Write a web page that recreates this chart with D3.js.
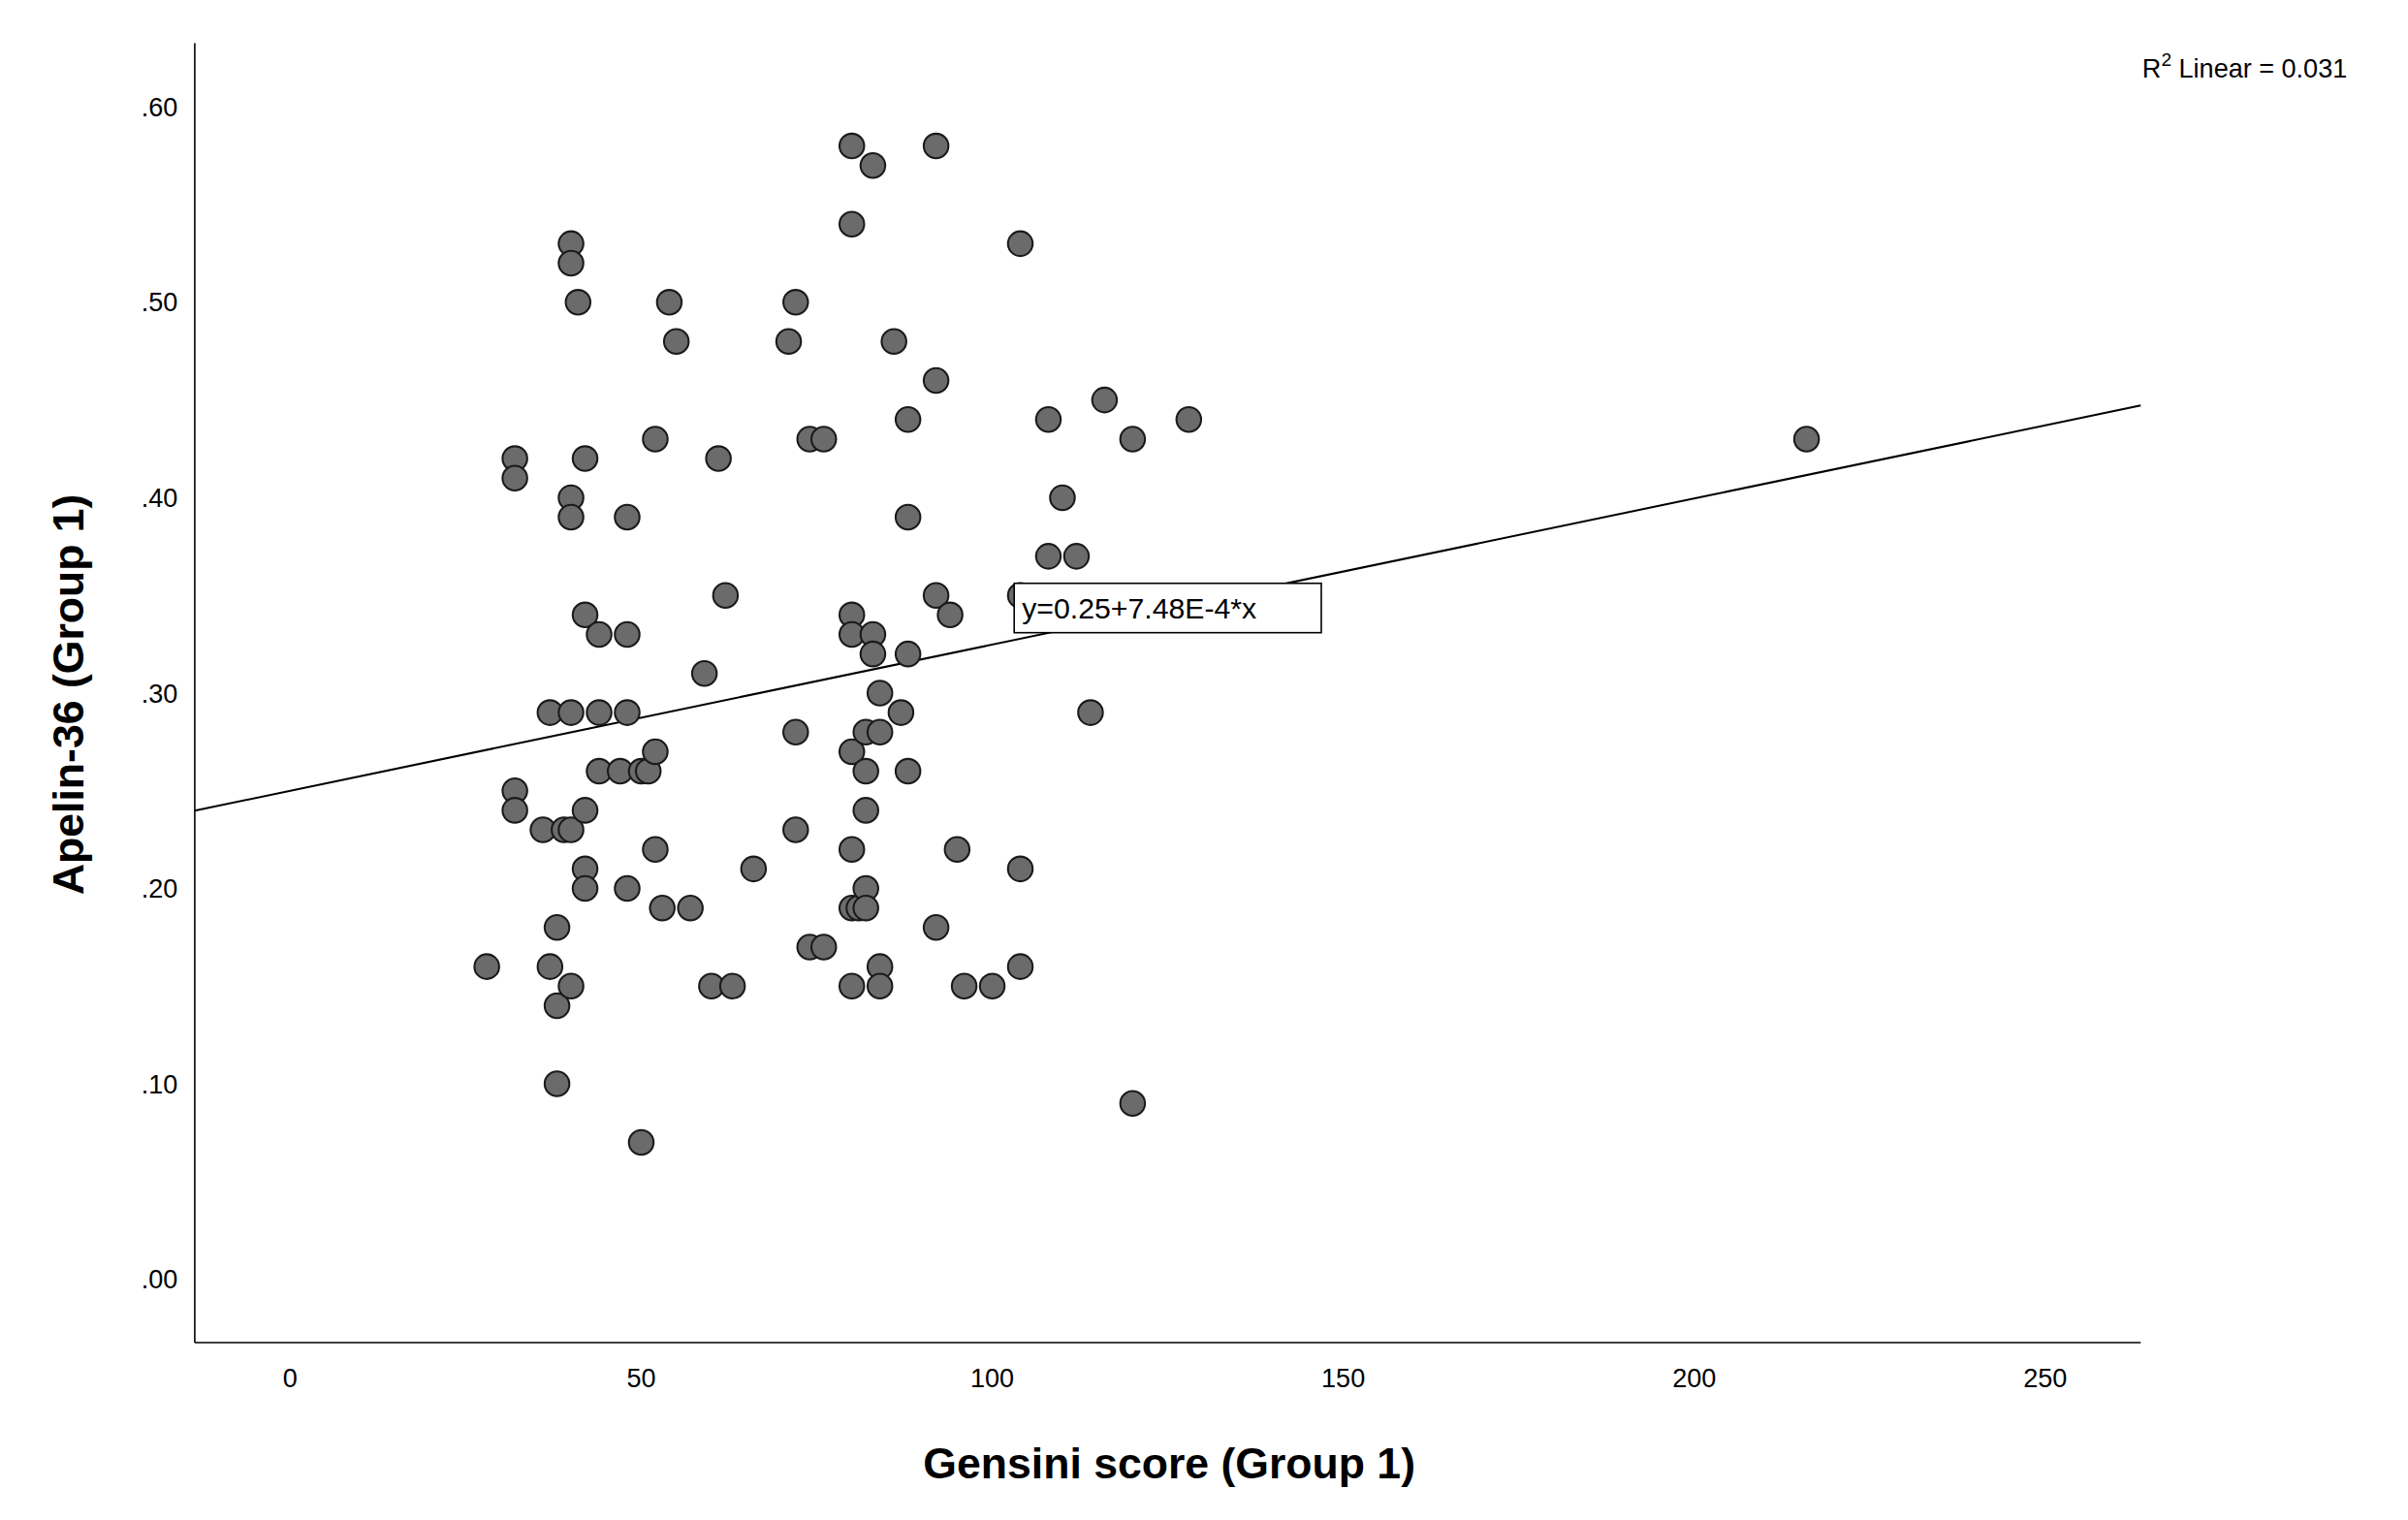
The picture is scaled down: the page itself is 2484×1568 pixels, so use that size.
<!DOCTYPE html>
<html><head><meta charset="utf-8">
<script src="https://cdn.jsdelivr.net/npm/d3@7"></script>
<style>body{margin:0;background:#fff}svg{display:block}text{font-family:"Liberation Sans",Arial,sans-serif}</style>
</head><body><svg id="c" width="2484" height="1568" viewBox="0 0 1560 985"></svg>
<script>
// Gensini score (x) and Apelin-36 (y)
const gensini = [28,32,32,32,32,36,37,37,38,38,38,39,40,40,40,40,40,40,40,41,42,42,42,42,42,44,44,44,47,48,48,48,48,50,50,51,52,52,52,53,54,55,57,59,60,61,62,63,66,71,72,72,72,74,74,76,76,80,80,80,80,80,80,80,80,81,82,82,82,82,82,83,83,83,84,84,84,84,86,87,88,88,88,88,92,92,92,92,94,95,96,100,104,104,104,104,108,108,110,112,114,116,120,120,128,216];
const apelin = [.16,.42,.41,.25,.24,.23,.29,.16,.18,.14,.10,.23,.53,.52,.40,.39,.29,.23,.15,.50,.42,.34,.24,.21,.20,.33,.29,.26,.26,.39,.33,.29,.20,.26,.07,.26,.43,.27,.22,.19,.50,.48,.19,.31,.15,.42,.35,.15,.21,.48,.50,.28,.23,.43,.17,.43,.17,.58,.54,.34,.33,.27,.22,.19,.15,.19,.28,.26,.24,.20,.19,.57,.33,.32,.30,.28,.16,.15,.48,.29,.44,.39,.32,.26,.58,.46,.35,.18,.34,.22,.15,.15,.53,.35,.21,.16,.44,.37,.40,.37,.29,.45,.43,.09,.44,.43];
const xTicks = [0,50,100,150,200,250];
const yTicks = [0,.1,.2,.3,.4,.5,.6];
const fit = {a: 0.25, b: 7.48e-4};

const svg = d3.select('#c');
const m = {left: 126, right: 1387, top: 28, bottom: 870};
const x = d3.scaleLinear().domain([-13.6, 263.6]).range([m.left, m.right]);
const y = d3.scaleLinear().domain([-0.0324, 0.6326]).range([m.bottom, m.top]);

svg.append('line').attr('x1', m.left).attr('x2', m.left).attr('y1', m.top).attr('y2', m.bottom).attr('stroke', '#000');
svg.append('line').attr('x1', m.left).attr('x2', m.right).attr('y1', m.bottom).attr('y2', m.bottom).attr('stroke', '#000');

svg.selectAll('.xt').data(xTicks).join('text')
  .attr('x', d => x(d)).attr('y', m.bottom + 29).attr('text-anchor', 'middle')
  .attr('font-size', 17).text(d => d);
svg.selectAll('.yt').data(yTicks).join('text')
  .attr('x', m.left - 11).attr('y', d => y(d) + 6).attr('text-anchor', 'end')
  .attr('font-size', 17).text(d => d3.format('.2f')(d).replace(/^0/, ''));

svg.append('text').attr('x', (m.left + m.right) / 2 + 1).attr('y', 958).attr('text-anchor', 'middle')
  .attr('font-size', 28).attr('font-weight', 'bold').text('Gensini score (Group 1)');
svg.append('text').attr('transform', `translate(54,${(m.top + m.bottom) / 2 + 1}) rotate(-90)`)
  .attr('text-anchor', 'middle').attr('font-size', 28).attr('font-weight', 'bold').text('Apelin-36 (Group 1)');

svg.append('line')
  .attr('x1', x(-13.6)).attr('y1', y(fit.a + fit.b * -13.6))
  .attr('x2', x(263.6)).attr('y2', y(fit.a + fit.b * 263.6))
  .attr('stroke', '#000').attr('stroke-width', 1.3);

svg.selectAll('circle').data(gensini.map((g, i) => [g, apelin[i]])).join('circle')
  .attr('cx', d => x(d[0])).attr('cy', d => y(d[1])).attr('r', 8)
  .attr('fill', '#6b6b6b').attr('stroke', '#1a1a1a').attr('stroke-width', 1.3);

const lab = svg.append('g');
lab.append('rect').attr('x', 657).attr('y', 378).attr('width', 199).attr('height', 32)
  .attr('fill', '#fff').attr('stroke', '#000');
lab.append('text').attr('x', 662).attr('y', 401).attr('font-size', 19).text('y=0.25+7.48E-4*x');

const r2 = svg.append('text').attr('x', 1388).attr('y', 50).attr('font-size', 17);
r2.append('tspan').text('R');
r2.append('tspan').attr('dy', -7).attr('font-size', 12).text('2');
r2.append('tspan').attr('dy', 7).text(' Linear = 0.031');
</script></body></html>
